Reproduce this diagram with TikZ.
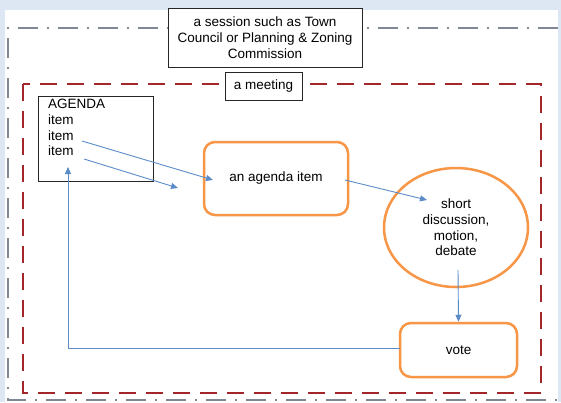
\documentclass[tikz,border=0pt]{standalone}
\usepackage{fontspec}
\setmainfont{Liberation Sans}
\usetikzlibrary{arrows.meta,shapes.geometric}

\definecolor{pageblue}{HTML}{DCE7F3}
\definecolor{framegray}{HTML}{7F8894}
\definecolor{meetred}{HTML}{A3262A}
\definecolor{boxorange}{HTML}{F79646}
\definecolor{flowblue}{HTML}{5B8CC8}

\tikzset{
  plainbox/.style={draw=black!85, line width=0.9pt, fill=white, align=center, inner sep=2pt},
  orangebox/.style={draw=boxorange, line width=2.5pt, rounded corners=11pt, fill=white, align=center},
  orangeoval/.style={ellipse, draw=boxorange, line width=2.5pt, fill=white, align=center, inner sep=0pt},
  flow/.style={draw=flowblue, line width=0.9pt, -{Triangle[length=7pt,width=6pt]}},
  sessionframe/.style={draw=framegray, line width=2.5pt, dash pattern=on 20pt off 9pt on 2pt off 9pt},
  meetingframe/.style={draw=meetred, line width=2.5pt, dash pattern=on 17pt off 10pt}
}

\begin{document}
\begin{tikzpicture}[x=1pt, y=-1pt, font=\fontsize{13.5}{15.7}\selectfont]
  % page background
  \fill[pageblue] (0,0) rectangle (561,402);
  \fill[white] (5,10) rectangle (558,402);
  \useasboundingbox (0,0) rectangle (561,402);

  % session frame (dash-dot) and meeting frame (dashed)
  \coordinate (sTR) at (558,28);
  \coordinate (sTL) at (8,28);
  \coordinate (sBL) at (8,400);
  \coordinate (sBR) at (558,400);
  \draw[sessionframe] (sTR) -- (sTL) -- (sBL) -- (sBR);
  \coordinate (mTL) at (23,84);
  \coordinate (mBR) at (541,393);
  \draw[meetingframe] (mTL) rectangle (mBR);

  % frame labels
  \node[plainbox, minimum width=194pt, minimum height=59pt] (session) at (265,37.5)
    {a session such as Town\\Council or Planning \& Zoning\\Commission};
  \node[plainbox, minimum width=77pt, minimum height=28pt] (meeting) at (263.5,86) {a meeting};

  % agenda list
  \node[plainbox, minimum width=115pt, minimum height=85pt] (agenda) at (95.5,138.5) {};
  \node[anchor=north west, align=left, inner sep=0pt] (agtext) at (48,99)
    {AGENDA\\item\\item\\item};

  % process steps
  \node[orangebox, minimum width=144pt, minimum height=73pt] (aitem) at (276,178.5) {an agenda item};
  \node[orangeoval, minimum width=144pt, minimum height=119pt] (disc) at (456,227.5)
    {short\\discussion,\\motion,\\debate};
  \node[orangebox, minimum width=117pt, minimum height=54pt] (vote) at (458.5,350) {vote};

  % connector end points
  \coordinate (item2) at (82,141);
  \coordinate (item3) at (84,159);
  \coordinate (aitemin) at (213,180);
  \coordinate (loose) at (178,188);
  \coordinate (aitemout) at (345,180);
  \coordinate (discin) at (427,200);
  \coordinate (discout) at (458,270);
  \coordinate (voteout) at (400,348);
  \coordinate (backcorner) at (68,348);
  \coordinate (agendain) at (68,167);

  % connectors
  \draw[flow] (item2) -- (aitemin);
  \draw[flow] (item3) -- (loose);
  \draw[flow] (aitemout) -- (discin);
  \draw[flow] (discout) -- (vote.north);
  \draw[flow] (voteout) -- (backcorner) -- (agendain);
\end{tikzpicture}
\end{document}
